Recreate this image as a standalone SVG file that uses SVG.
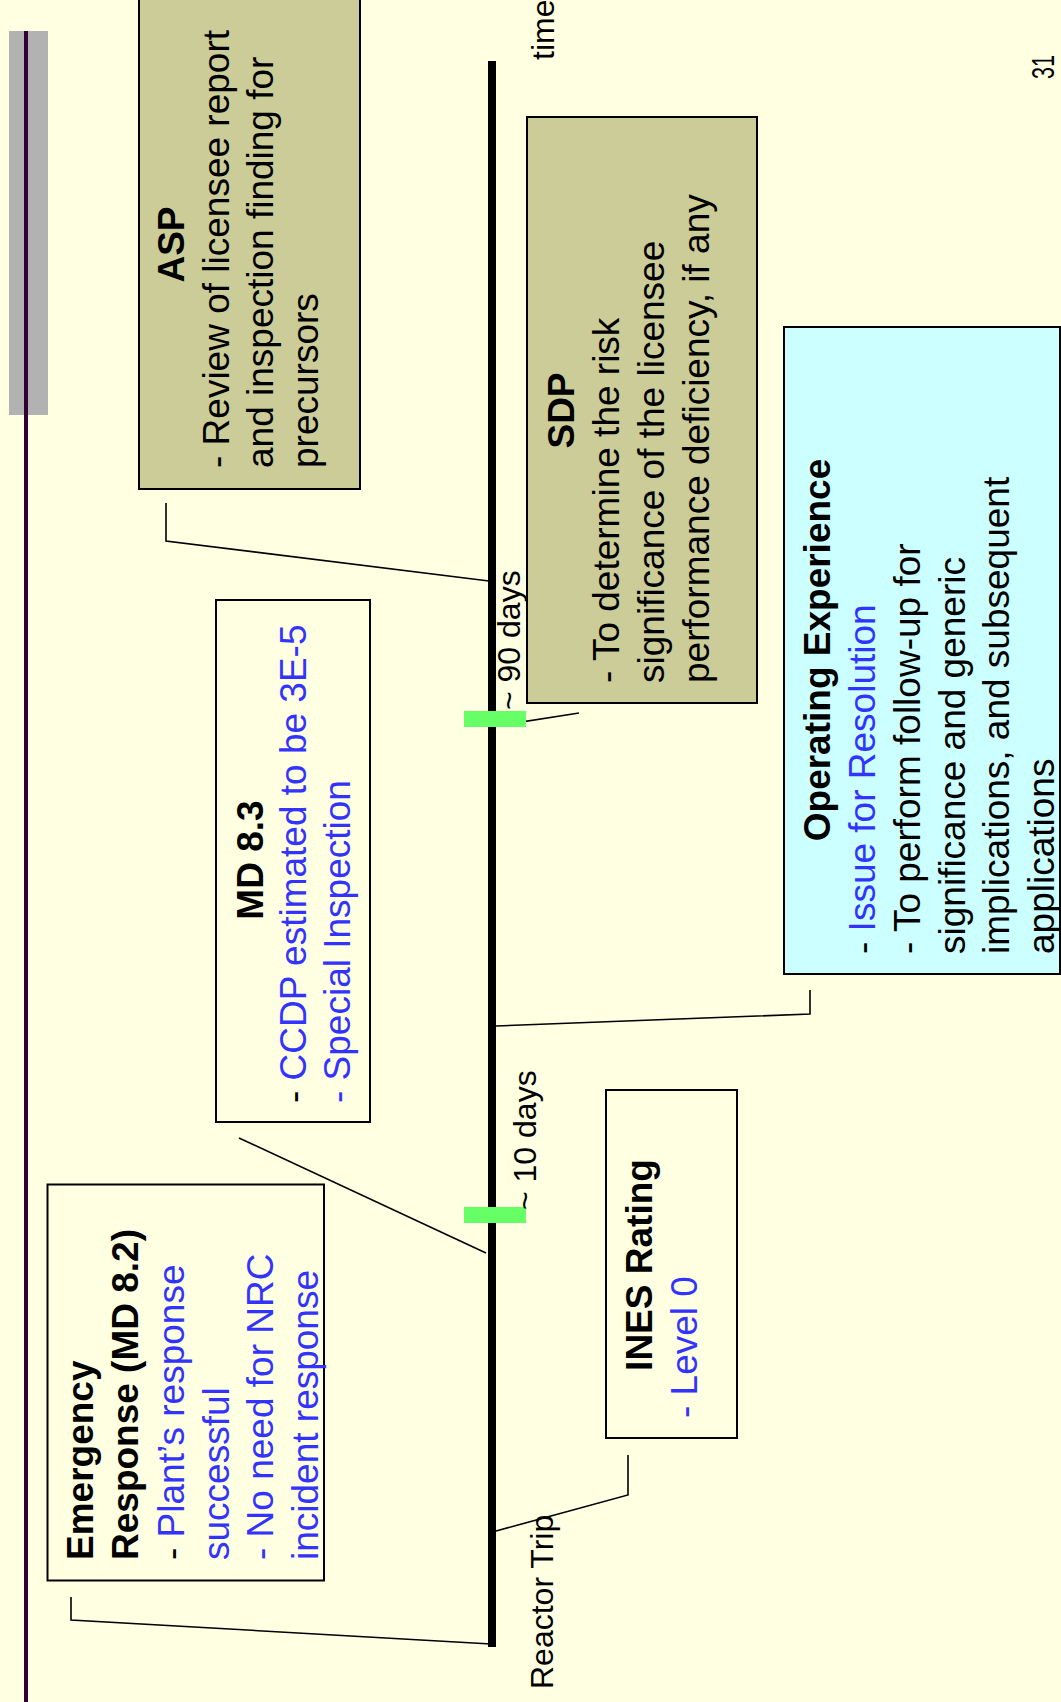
<svg xmlns="http://www.w3.org/2000/svg" width="1061" height="1702" viewBox="0 0 1061 1702">
<style>
.t{font-family:"Liberation Sans",Arial,sans-serif;font-size:37px;fill:#000}
.s{font-family:"Liberation Sans",Arial,sans-serif;font-size:32px;fill:#000}
.b{font-weight:bold}
.bl{fill:#3333FF}
.box{stroke:#000;stroke-width:2}
.tan{fill:#CCCC99}
.cyan{fill:#CCFFFF}
.plain{fill:none}
.con{fill:none;stroke:#000;stroke-width:1.6}
.tick{fill:#66FF66}
</style>
<rect x="0" y="0" width="1061" height="1702" fill="#FFFFE1"/>
<g id="decor">
<rect x="9" y="31" width="39" height="384" fill="#B2B2B2"/>
<rect x="24" y="31" width="4" height="1671" fill="#330033"/>
</g>
<g id="connectors">
<polyline class="con" points="489,581 166,541 166,503"/>
<line class="con" x1="496" y1="726" x2="579" y2="713"/>
<polyline class="con" points="496,1026 810,1014 810,990"/>
<line class="con" x1="239" y1="1138" x2="486" y2="1253"/>
<polyline class="con" points="496,1531 628,1495 628,1455"/>
<polyline class="con" points="491,1644 71,1620 71,1597"/>
</g>
<g id="timeline">
<line x1="492" y1="61" x2="492" y2="1647" stroke="#000" stroke-width="8"/>
<rect class="tick" x="464" y="711" width="62" height="16"/>
<rect class="tick" x="464" y="1207" width="62" height="16"/>
<text class="s" transform="translate(554,60) rotate(-90)">time</text>
<text class="s" transform="translate(520,710) rotate(-90)">~ 90 days</text>
<text class="s" transform="translate(536,1210) rotate(-90)">~ 10 days</text>
<text class="s" transform="translate(553,1689) rotate(-90)">Reactor Trip</text>
<text class="s" font-size="27" textLength="24" lengthAdjust="spacingAndGlyphs" transform="translate(1054,79) rotate(-90)">31</text>
</g>
<g id="asp">
<rect class="box tan" x="139" y="-10" width="221" height="499"/>
<text class="t b" text-anchor="middle" transform="translate(184,244.5) rotate(-90)">ASP</text>
<text class="t" transform="translate(228.5,468) rotate(-90)"><tspan x="0" y="0">- Review of licensee report</tspan><tspan x="0" y="44.5">and inspection finding for</tspan><tspan x="0" y="89">precursors</tspan></text>
</g>
<g id="sdp">
<rect class="box tan" x="527" y="117" width="230" height="586"/>
<text class="t b" text-anchor="middle" transform="translate(574,410.5) rotate(-90)">SDP</text>
<text class="t" transform="translate(619,683) rotate(-90)"><tspan x="0" y="0">- To determine the risk</tspan><tspan x="0" y="45">significance of the licensee</tspan><tspan x="0" y="90">performance deficiency, if any</tspan></text>
</g>
<g id="oe">
<rect class="box cyan" x="784" y="327" width="276" height="647"/>
<text class="t b" text-anchor="middle" transform="translate(829.5,650) rotate(-90)">Operating Experience</text>
<text class="t" transform="translate(875,954) rotate(-90)"><tspan x="0" y="0">- <tspan class="bl">Issue for Resolution</tspan></tspan><tspan x="0" y="44.8">- To perform follow-up for</tspan><tspan x="0" y="89.6">significance and generic</tspan><tspan x="0" y="134.4">implications, and subsequent</tspan><tspan x="0" y="179.2">applications</tspan></text>
</g>
<g id="md83">
<rect class="box plain" x="216" y="600" width="154" height="522"/>
<text class="t b" text-anchor="middle" transform="translate(262.5,860) rotate(-90)">MD 8.3</text>
<text class="t" transform="translate(306,1103) rotate(-90)"><tspan x="0" y="0">- <tspan class="bl">CCDP estimated to be 3E-5</tspan></tspan><tspan class="bl" x="0" y="44">- Special Inspection</tspan></text>
</g>
<g id="emergency">
<rect class="box plain" x="47.5" y="1184.5" width="276.5" height="396"/>
<text class="t" transform="translate(92.5,1560) rotate(-90)"><tspan class="b" x="0" y="0">Emergency</tspan><tspan class="b" x="0" y="45">Response (MD 8.2)</tspan><tspan x="0" y="91">- <tspan class="bl">Plant’s response</tspan></tspan><tspan class="bl" x="0" y="136">successful</tspan><tspan class="bl" x="0" y="180.5">- No need for NRC</tspan><tspan class="bl" x="0" y="225.5">incident response</tspan></text>
</g>
<g id="ines">
<rect class="box plain" x="606" y="1090" width="131" height="348"/>
<text class="t b" text-anchor="middle" transform="translate(651.5,1265) rotate(-90)">INES Rating</text>
<text class="t bl" transform="translate(697,1418) rotate(-90)">- Level 0</text>
</g>
</svg>
